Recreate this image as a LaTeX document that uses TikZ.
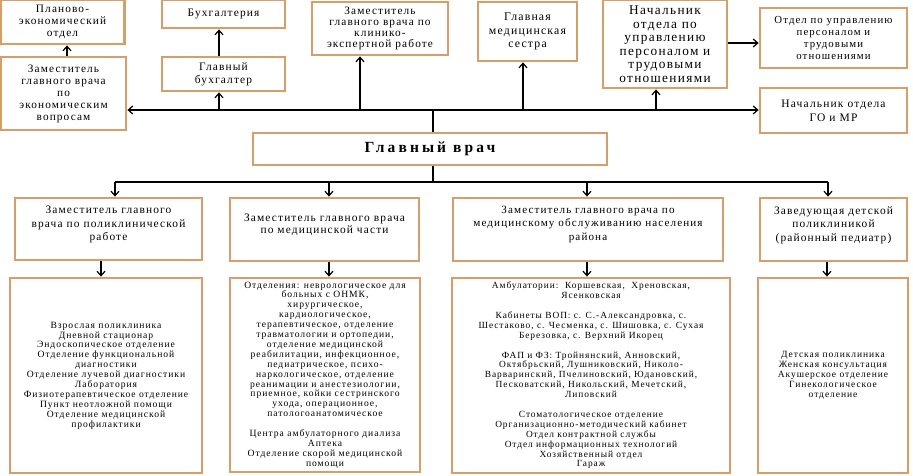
\documentclass[tikz,border=0pt]{standalone}
\usepackage{fontspec}
\setmainfont{Liberation Serif}[LetterSpace=10]
\newfontfamily\chieffont{Liberation Serif}[LetterSpace=20]
\usetikzlibrary{arrows.meta}
\definecolor{boxc}{RGB}{214,158,106}
\newcommand{\fs}[2]{\fontsize{#1}{#2}\selectfont}
\begin{document}
\begin{tikzpicture}[x=1pt,y=-1pt,
  box/.style={draw=boxc, line width=2.8pt, fill=white, inner sep=0pt, align=center},
  txt/.style={align=center, inner sep=0pt},
  ln/.style={line width=1.1pt},
  arr/.style={line width=1.2pt, -{Straight Barb[length=4.5pt,width=8pt,line width=1.2pt]}}]
\useasboundingbox (0,0) rectangle (913,476);
% top row
\node[box, font=\fs{11.3}{12}, minimum width=124pt, minimum height=44pt] (plan) at (62.5,22) {Планово-\\экономический\\отдел};
\node[box, font=\fs{11.3}{12}, minimum width=125pt, minimum height=73pt] (econ) at (63.5,93.5) {Заместитель\\главного врача\\по\\экономическим\\вопросам};
\node[box, font=\fs{11.4}{12}, minimum width=123pt, minimum height=28pt] (buh) at (223.5,14) {Бухгалтерия};
\node[box, font=\fs{11.4}{13}, minimum width=123pt, minimum height=34pt] (glbuh) at (223.5,74) {Главный\\бухгалтер};
\node[box, font=\fs{11.3}{11.2}, minimum width=136pt, minimum height=53pt] (kle) at (380,28.5) {Заместитель\\главного врача по\\клинико-\\экспертной работе};
\node[box, font=\fs{11.8}{13.5}, minimum width=99pt, minimum height=59pt] (ms) at (527.5,31.5) {Главная\\медицинская\\сестра};
\node[box, font=\fs{13.3}{13.5}, minimum width=124pt, minimum height=88pt] (nach) at (665,44) {Начальник\\отдела по\\управлению\\персоналом и\\трудовыми\\отношениями};
\node[box, font=\fs{10.8}{12.3}, minimum width=147pt, minimum height=60pt] (otd) at (833.5,38) {Отдел по управлению\\персоналом и\\трудовыми\\отношениями};
\node[box, font=\fs{11.5}{14}, minimum width=147pt, minimum height=45pt] (go) at (833.5,110.5) {Начальник отдела\\ГО и МР};
% chief
\node[box, font=\chieffont\fs{15.5}{18}\bfseries, minimum width=354pt, minimum height=32pt] (gv) at (430,149) {Главный врач};
% second row
\node[box, minimum width=187pt, minimum height=62pt] (p1) at (108.5,229) {};
\node[box, minimum width=189pt, minimum height=63pt] (p2) at (324.5,229.5) {};
\node[box, minimum width=270pt, minimum height=63pt] (p3) at (588,229.5) {};
\node[box, minimum width=147pt, minimum height=63pt] (p4) at (833.5,229.5) {};
\node[txt, font=\fs{11.4}{13.3}] (p1t) at ([yshift=4.5pt]p1.center) {Заместитель главного\\врача по поликлинической\\работе};
\node[txt, font=\fs{11.4}{12}] (p2t) at ([yshift=4.5pt]p2.center) {Заместитель главного врача\\по медицинской части};
\node[txt, font=\fs{11.1}{13.5}] (p3t) at ([yshift=5pt]p3.center) {Заместитель главного врача по\\медицинскому обслуживанию населения\\района};
\node[txt, font=\fs{11.4}{13.5}] (p4t) at ([yshift=4.5pt]p4.center) {Заведующая детской\\поликлиникой\\(районный педиатр)};
% bottom row
\node[box, font=\fs{9.6}{9.9}, minimum width=192pt, minimum height=195pt] (b1) at (106,375.5) {Взрослая поликлиника\\Дневной стационар\\Эндоскопическое отделение\\Отделение функциональной\\диагностики\\Отделение лучевой диагностики\\Лаборатория\\Физиотерапевтическое отделение\\Пункт неотложной помощи\\Отделение медицинской\\профилактики};
\node[box, font=\fs{9.6}{9.9}, minimum width=190pt, minimum height=194pt] (b2) at (325,375) {Отделения: неврологическое для\\больных с ОНМК,\\хирургическое,\\кардиологическое,\\терапевтическое, отделение\\травматологии и ортопедии,\\отделение медицинской\\реабилитации, инфекционное,\\педиатрическое, психо-\\наркологическое, отделение\\реанимации и анестезиологии,\\приемное, койки сестринского\\ухода, операционное,\\патологоанатомическое\\[9.9pt]Центра амбулаторного диализа\\Аптека\\Отделение скорой медицинской\\помощи};
\node[box, font=\fs{9.4}{9.9}, minimum width=278pt, minimum height=195pt] (b3) at (591,375.5) {Амбулатории:\ \ Коршевская,\ \ Хреновская,\\Ясенковская\\[9.9pt]Кабинеты ВОП: с. С.-Александровка, с.\\Шестаково, с. Чесменка, с. Шишовка, с. Сухая\\Березовка, с. Верхний Икорец\\[9.9pt]ФАП и ФЗ: Тройнянский,\ Анновский,\\Октябрьский,\ Лушниковский, Николо-\\Варваринский,\ Пчелиновский, Юдановский,\\Песковатский, Никольский, Мечетский,\\Липовский\\[9.9pt]Стоматологическое отделение\\Организационно-методический кабинет\\Отдел контрактной службы\\Отдел информационных технологий\\Хозяйственный отдел\\Гараж};
\node[box, font=\fs{9.5}{9.9}, minimum width=150pt, minimum height=195pt] (b4) at (833,375.5) {Детская поликлиника\\Женская консультация\\Акушерское отделение\\Гинекологическое\\отделение};
% top bus
\coordinate (bt) at (433,110);
\coordinate (j1) at (219,110);
\coordinate (j2) at (360,110);
\coordinate (j3) at (523,110);
\coordinate (j4) at (656,110);
\draw[ln] (gv.north -| bt) -- (bt);
\draw[arr] (bt) -- (bt -| econ.east);
\draw[arr] (bt) -- (bt -| go.west);
\draw[arr] (j1) -- (j1 |- glbuh.south);
\draw[arr] (j2) -- (j2 |- kle.south);
\draw[arr] (j3) -- (j3 |- ms.south);
\draw[arr] (j4) -- (j4 |- nach.south);
\draw[arr] ([xshift=3.5pt]econ.north) -- ([xshift=3.5pt]econ.north |- plan.south);
\draw[arr] ([xshift=-4.5pt]glbuh.north) -- ([xshift=-4.5pt]glbuh.north |- buh.south);
\draw[arr] ([yshift=1pt]nach.east) -- ([yshift=1pt]nach.east -| otd.west);
% lower bus
\coordinate (bb) at (433,182);
\coordinate (k1) at (115,182);
\coordinate (k2) at (329,182);
\coordinate (k3) at (587,182);
\coordinate (k4) at (828,182);
\draw[ln] (gv.south -| bb) -- (bb);
\draw[ln] (k1) -- (k4);
\draw[arr] (k1) -- (k1 |- p1.north);
\draw[arr] (k2) -- (k2 |- p2.north);
\draw[arr] (k3) -- (k3 |- p3.north);
\draw[arr] (k4) -- (k4 |- p4.north);
\draw[arr] ([xshift=-7.5pt]p1.south) -- ([xshift=-7.5pt]p1.south |- b1.north);
\draw[arr] ([xshift=4.5pt]p2.south) -- ([xshift=4.5pt]p2.south |- b2.north);
\draw[arr] ([xshift=-1pt]p3.south) -- ([xshift=-1pt]p3.south |- b3.north);
\draw[arr] ([xshift=-6.5pt]p4.south) -- ([xshift=-6.5pt]p4.south |- b4.north);
\end{tikzpicture}
\end{document}
